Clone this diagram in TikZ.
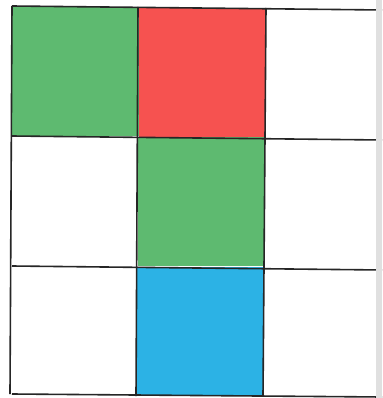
\documentclass[tikz,border=0pt]{standalone}
\definecolor{cgreen}{RGB}{94,186,112}
\definecolor{cred}{RGB}{246,82,80}
\definecolor{cblue}{RGB}{44,178,229}
\begin{document}
\begin{tikzpicture}[x=1pt,y=-1pt,
  cell/.style={minimum width=127pt,minimum height=129pt,inner sep=0pt,outer sep=0pt,anchor=north west},
  gridline/.style={line width=1.6pt,draw=black!85}]
\useasboundingbox (0,0) rectangle (382,398);
\fill[white] (0,0) rectangle (382,398);
\node[cell,fill=cgreen] (g1) at (12,7) {};
\node[cell,fill=cred] (r1) at (139,8) {};
\node[cell,fill=cgreen] (g2) at (138,137) {};
\node[cell,fill=cblue] (b1) at (136,267) {};
% grid lines
\draw[gridline] (12,6) -- (382,10);
\draw[gridline] (12,136) -- (382,140);
\draw[gridline] (12,266) -- (382,270);
\draw[gridline] (12,394) -- (382,397);
\draw[gridline] (12,6) -- (10,394);
\draw[gridline] (138,7) -- (136,396);
\draw[gridline] (266,8) -- (263,396);
% page edge shading
\fill[black!12] (376,0) rectangle (382,398);
\end{tikzpicture}
\end{document}
